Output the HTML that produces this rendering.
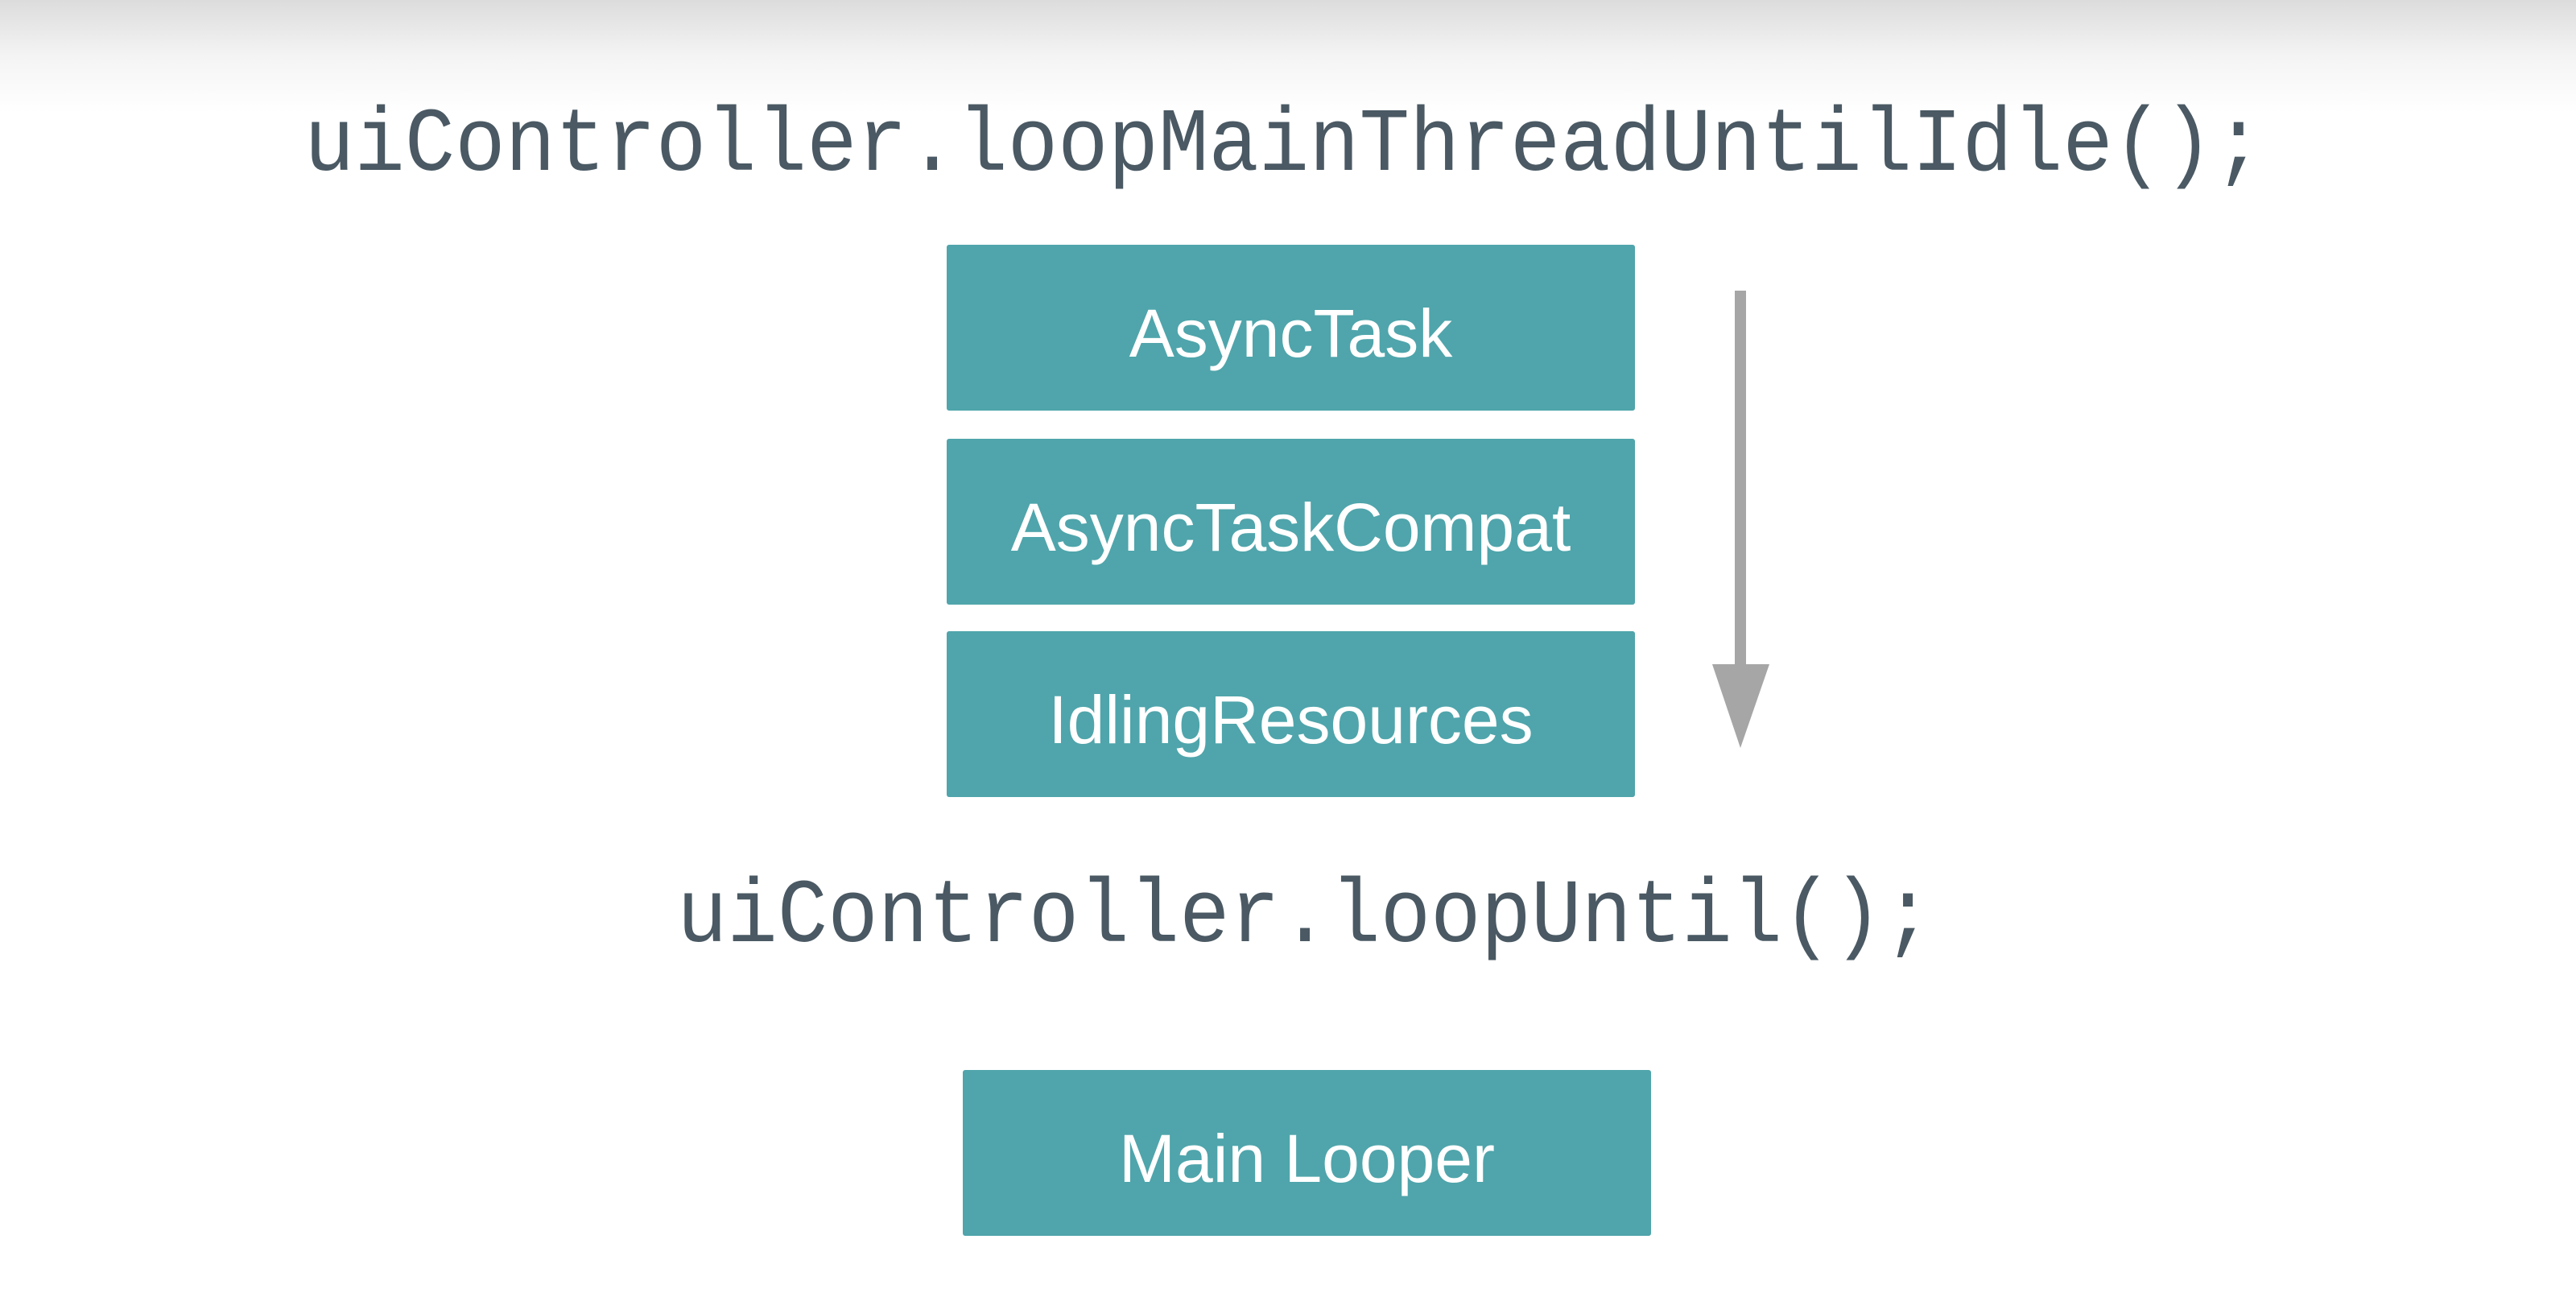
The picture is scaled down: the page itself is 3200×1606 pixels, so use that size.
<!DOCTYPE html>
<html><head><style>
html,body{margin:0;padding:0}
body{width:3200px;height:1606px;position:relative;overflow:hidden;background:#fff;font-family:"Liberation Sans",sans-serif}
.grad{position:absolute;left:0;top:0;width:3200px;height:140px;background:linear-gradient(#dcdcdc,#f4f4f4 50%,#fff)}
.code{position:absolute;font-family:"Liberation Mono",monospace;font-size:104px;color:#4a5963;white-space:nowrap;line-height:1;transform:scaleY(1.08);transform-origin:0 100%}
.box{position:absolute;background:#4fa5ab;color:#fff;font-size:84px;display:flex;align-items:center;justify-content:center;border-radius:3px;padding-top:14px;box-sizing:border-box}
</style></head><body>
<div class="grad"></div>
<div class="code" style="left:378px;top:134px">uiController.loopMainThreadUntilIdle();</div>
<div class="box" style="left:1176px;top:304px;width:855px;height:206px">AsyncTask</div>
<div class="box" style="left:1176px;top:545px;width:855px;height:206px">AsyncTaskCompat</div>
<div class="box" style="left:1176px;top:784px;width:855px;height:206px">IdlingResources</div>
<svg style="position:absolute;left:0;top:0" width="3200" height="1606">
<line x1="2162" y1="361" x2="2162" y2="830" stroke="#a6a6a6" stroke-width="14"/>
<polygon points="2127,825 2198,825 2162,929" fill="#a6a6a6"/>
</svg>
<div class="code" style="left:841px;top:1092px">uiController.loopUntil();</div>
<div class="box" style="left:1196px;top:1329px;width:855px;height:206px">Main Looper</div>
</body></html>
